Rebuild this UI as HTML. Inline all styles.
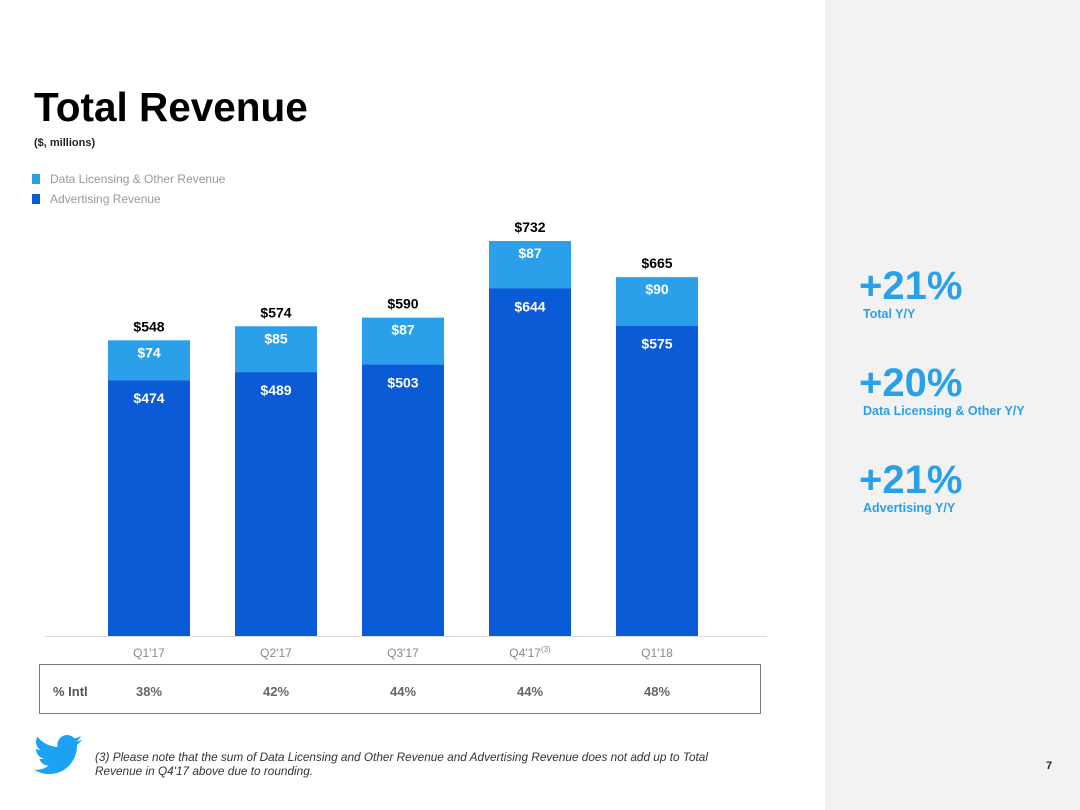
<!DOCTYPE html>
<html><head><meta charset="utf-8"><style>
body{margin:0;width:1080px;height:810px;position:relative;background:#fff;font-family:"Liberation Sans",sans-serif;overflow:hidden}
.abs{position:absolute}
</style></head><body>
<div class="abs" style="left:825px;top:0;width:255px;height:810px;background:#f2f2f2"></div>
<div class="abs" style="left:34px;top:84px;font-size:40.5px;font-weight:bold;color:#000">Total Revenue</div>
<div class="abs" style="left:34px;top:137px;font-size:11px;font-weight:bold;color:#222">($, millions)</div>
<div class="abs" style="left:32px;top:172px;font-size:12px;color:#999"><span style="display:inline-block;width:8px;height:10px;background:#2aa0ea;margin-right:10px;vertical-align:-1px"></span>Data Licensing &amp; Other Revenue</div>
<div class="abs" style="left:32px;top:192px;font-size:12px;color:#999"><span style="display:inline-block;width:8px;height:10px;background:#0b5ad6;margin-right:10px;vertical-align:-1px"></span>Advertising Revenue</div>
<svg id="chart" class="abs" style="left:0;top:0" width="825" height="680"></svg>
<div class="abs" style="left:39px;top:664px;width:720px;height:48px;border:1.5px solid #777"></div>
<div class="abs" style="left:53px;top:684px;font-size:13px;font-weight:bold;color:#555">% Intl</div>
<svg class="abs" style="left:34px;top:735px" width="48" height="40" viewBox="0 0 24 20"><path fill="#1da1f2" d="M24 2.4c-.9.4-1.8.7-2.8.8 1-.6 1.8-1.6 2.2-2.700-1 .6-2 1-3.1 1.2C19.3.7 18 0 16.6 0c-2.7 0-4.900 2.200-4.900 4.900 0 .4 0 .8.1 1.1C7.7 5.800 4.1 3.900 1.7.9c-.4.7-.7 1.600-.7 2.500 0 1.700.9 3.200 2.200 4.100-.8 0-1.600-.2-2.200-.6v.1c0 2.400 1.700 4.400 3.900 4.800-.4.1-.8.2-1.300.2-.3 0-.6 0-.9-.1.6 2 2.400 3.400 4.600 3.400-1.700 1.300-3.800 2.100-6.100 2.100-.4 0-.8 0-1.200-.1 2.200 1.400 4.800 2.200 7.500 2.200 9.100 0 14-7.500 14-14v-.6c1-.7 1.800-1.600 2.500-2.500z"/></svg>
<div class="abs" style="left:95px;top:750px;font-size:11.8px;font-style:italic;color:#333;line-height:14px">(3) Please note that the sum of Data Licensing and Other Revenue and Advertising Revenue does not add up to Total<br>Revenue in Q4'17 above due to rounding.</div>
<div class="abs" style="left:1046px;top:760px;font-size:11px;font-weight:bold;color:#222">7</div>
<div class="abs" style="left:859px;top:265px;color:#2aa0ea;font-weight:bold"><div style="font-size:40px;line-height:42px">+21%</div><div style="font-size:12.5px;margin-left:4px">Total Y/Y</div></div>
<div class="abs" style="left:859px;top:362px;color:#2aa0ea;font-weight:bold"><div style="font-size:40px;line-height:42px">+20%</div><div style="font-size:12.5px;margin-left:4px">Data Licensing &amp; Other Y/Y</div></div>
<div class="abs" style="left:859px;top:459px;color:#2aa0ea;font-weight:bold"><div style="font-size:40px;line-height:42px">+21%</div><div style="font-size:12.5px;margin-left:4px">Advertising Y/Y</div></div>
<script>
const categories=["Q1'17","Q2'17","Q3'17","Q4'17","Q1'18"];
const advertising=[474,489,503,644,575];
const dataLicensing=[74,85,87,87,90];
const totals=[548,574,590,732,665];
const intl=["38%","42%","44%","44%","48%"];
const NS="http://www.w3.org/2000/svg";
const svg=document.getElementById('chart');
const base=636,scale=395/732,x0=108,pitch=127,bw=82;
const y=v=>base-v*scale;
const xb=i=>x0+i*pitch;
function mk(t,a){const e=document.createElementNS(NS,t);for(const k in a)e.setAttribute(k,a[k]);svg.appendChild(e);return e;}
const ax=mk('line',{x1:45,x2:767,y1:base+0.5,y2:base+0.5,stroke:'#ddd','stroke-width':1});


categories.forEach((c,i)=>{
  const x=xb(i),cx=x+bw/2;
  const top=y(totals[i]),mid=y(advertising[i]);
  const r1=mk('rect',{x:x,y:top,width:bw,height:mid-top,fill:'#2aa0ea'});
  
  
  const r2=mk('rect',{x:x,y:mid,width:bw,height:base-mid,fill:'#0b5ad6'});
  
  
  const t1=mk('text',{x:cx,y:top+17,'text-anchor':'middle','font-size':14,'font-weight':'bold',fill:'#fff'});t1.textContent='$'+dataLicensing[i];
  
  
  const t2=mk('text',{x:cx,y:mid+23,'text-anchor':'middle','font-size':14,'font-weight':'bold',fill:'#fff'});t2.textContent='$'+advertising[i];
  
  
  const t3=mk('text',{x:cx,y:top-9,'text-anchor':'middle','font-size':14,'font-weight':'bold',fill:'#000'});t3.textContent='$'+totals[i];
  
  
  const t4=mk('text',{x:cx,y:657,'text-anchor':'middle','font-size':12,fill:'#888'});t4.textContent=c;
  
  
  if(i===3){const s=mk('tspan',{'font-size':8,dy:-5});s.textContent='(3)';t4.appendChild(s);}
  const d=document.createElement('div');d.className='abs';
  
  
  d.style.cssText='left:'+(cx-40)+'px;top:684px;width:80px;text-align:center;font-size:13px;font-weight:bold;color:#666';
  d.textContent=intl[i];document.body.appendChild(d);
});
</script>
</body></html>
